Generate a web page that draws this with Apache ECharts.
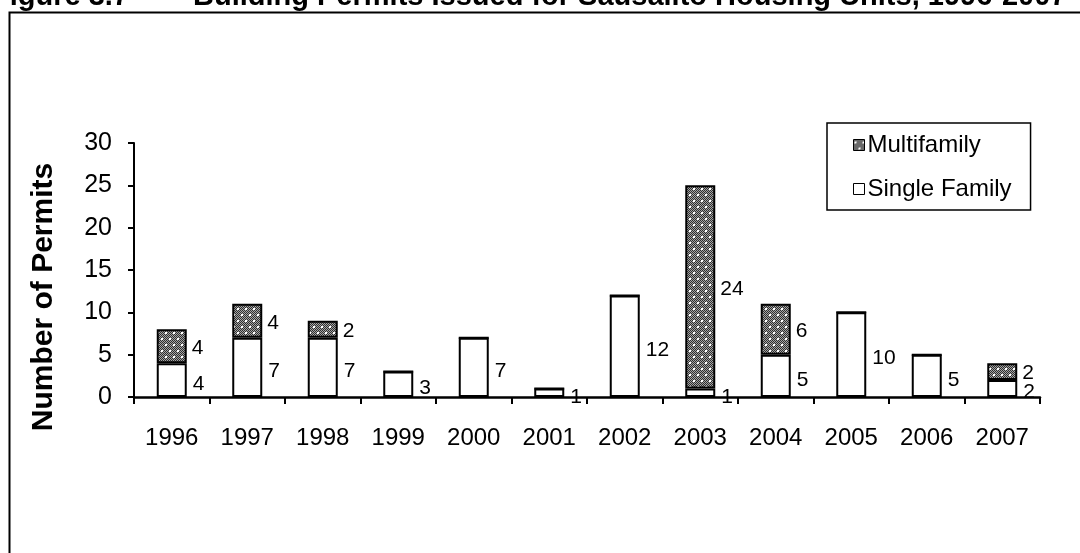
<!DOCTYPE html>
<html>
<head>
<meta charset="utf-8">
<script src="https://cdn.jsdelivr.net/npm/echarts@6/dist/echarts.min.js"></script>
<style>
  html, body { margin: 0; padding: 0; background: #fff; }
  #chart { width: 1080px; height: 553px; }
</style>
</head>
<body>
<div id="chart"></div>
<script>
// Building permits issued per year, split by housing type
const years = ['1996', '1997', '1998', '1999', '2000', '2001', '2002', '2003', '2004', '2005', '2006', '2007'];
const singleFamily = [4, 7, 7, 3, 7, 1, 12, 1, 5, 10, 5, 2];
const multifamily = [4, 4, 2, 0, 0, 0, 0, 24, 6, 0, 0, 2];
const yTicks = { min: 0, max: 30, step: 5 };

const FONT = 'Liberation Sans, Arial, sans-serif';

// Dotted-grid fill for the multifamily segments: fine grey checker with white dots
function makeDotPattern() {
  const c = document.createElement('canvas');
  c.width = 8; c.height = 12;
  const g = c.getContext('2d');
  for (let y = 0; y < c.height; y++) {
    for (let x = 0; x < c.width; x++) {
      g.fillStyle = ((x + y) % 2 === 0) ? '#2e2e2e' : '#a4a4a4';
      g.fillRect(x, y, 1, 1);
    }
  }
  g.fillStyle = '#ffffff';
  g.fillRect(1, 2, 2, 2);
  g.fillRect(5, 8, 2, 2);
  return c;
}
const dotFill = { image: makeDotPattern(), repeat: 'repeat' };

const chart = echarts.init(document.getElementById('chart'), null, { renderer: 'canvas' });

chart.setOption({
  backgroundColor: '#ffffff',
  animation: false,
  textStyle: { fontFamily: FONT, color: '#000' },
  graphic: [
    {
      type: 'text', left: -8, top: -18, z: 10,
      style: { text: 'Figure 3.7', font: 'bold 29px ' + FONT, fill: '#000' }
    },
    {
      type: 'text', left: 193, top: -18, z: 10,
      style: { text: 'Building Permits Issued for Sausalito Housing Units, 1996-2007', font: 'bold 29px ' + FONT, fill: '#000' }
    },
    {
      type: 'rect', z: 0, silent: true,
      shape: { x: 9.5, y: 12.5, width: 1200, height: 700 },
      style: { fill: 'none', stroke: '#000', lineWidth: 2 }
    },
    {
      // value-axis title
      type: 'text', x: 44, y: 297, rotation: Math.PI / 2, z: 10,
      style: {
        text: 'Number of Permits', font: 'bold 30px ' + FONT, fill: '#000',
        align: 'center', verticalAlign: 'middle'
      }
    }
  ],
  legend: {
    orient: 'vertical',
    left: 827,
    top: 123,
    data: ['Multifamily', 'Single Family'],
    icon: 'rect',
    itemWidth: 11,
    itemHeight: 11,
    itemGap: 20,
    padding: [10, 19, 9, 26],
    borderColor: '#000',
    borderWidth: 1.5,
    itemStyle: { borderWidth: 1, borderColor: '#000' },
    textStyle: { fontSize: 24, fontFamily: FONT, color: '#000', padding: [0, 0, 0, -2], lineHeight: 24 }
  },
  grid: { left: 134, right: 40, top: 143, bottom: 156 },
  xAxis: {
    type: 'category',
    data: years,
    boundaryGap: true,
    axisLine: { lineStyle: { color: '#000', width: 2.5 } },
    axisTick: { show: true, length: 7, lineStyle: { color: '#000', width: 2 } },
    axisLabel: { fontSize: 24, color: '#000', margin: 29, fontFamily: FONT }
  },
  yAxis: {
    type: 'value',
    min: yTicks.min,
    max: yTicks.max,
    interval: yTicks.step,
    axisLine: { show: true, lineStyle: { color: '#000', width: 2 } },
    axisTick: { show: true, length: 6, lineStyle: { color: '#000', width: 2 } },
    splitLine: { show: false },
    axisLabel: { fontSize: 25, color: '#000', margin: 22, fontFamily: FONT }
  },
  series: [
    {
      name: 'Single Family',
      type: 'bar',
      stack: 'permits',
      data: singleFamily,
      barWidth: 30,
      itemStyle: { color: '#ffffff', borderColor: '#000', borderWidth: 2 },
      label: {
        show: true, position: 'right', distance: 6, offset: [0, 4],
        fontSize: 21, color: '#000', fontFamily: FONT
      }
    },
    {
      name: 'Multifamily',
      type: 'bar',
      stack: 'permits',
      data: multifamily,
      barWidth: 30,
      itemStyle: { color: dotFill, borderColor: '#000', borderWidth: 2 },
      label: {
        show: true, position: 'right', distance: 5, offset: [0, 2],
        fontSize: 21, color: '#000', fontFamily: FONT,
        formatter: p => (p.value ? String(p.value) : '')
      }
    }
  ]
});
</script>
</body>
</html>
